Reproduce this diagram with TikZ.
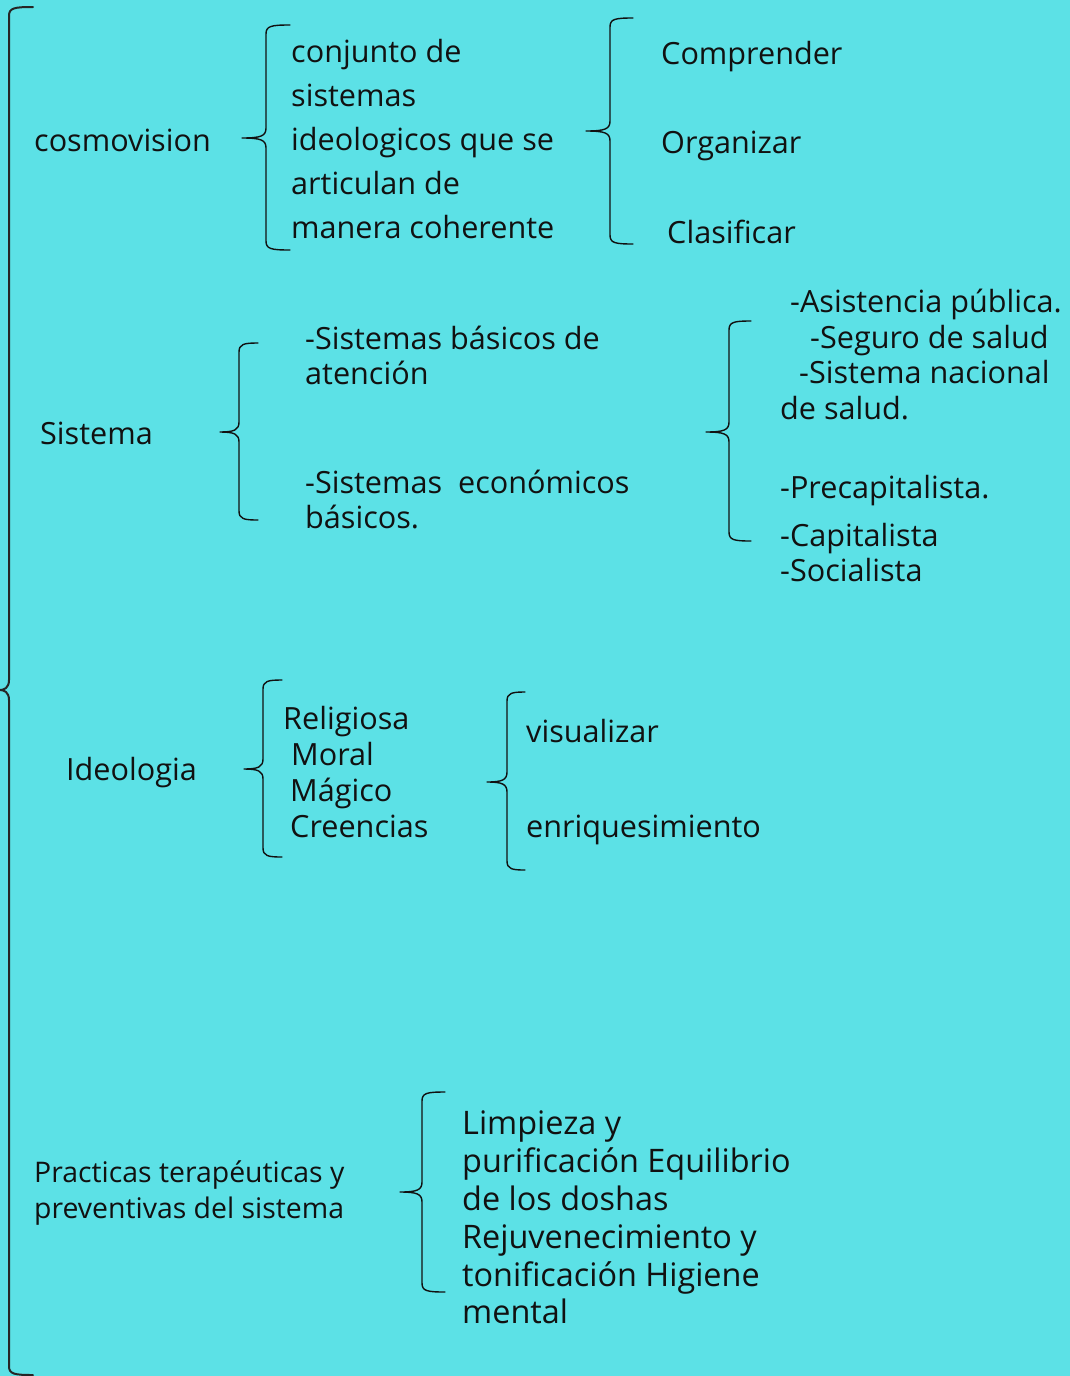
\documentclass[tikz,border=0pt]{standalone}
\usepackage{fontspec}
\setmainfont{Open Sans}
\definecolor{bg}{HTML}{5CE1E6}
\definecolor{ink}{HTML}{111111}
\tikzset{
  txt/.style={anchor=base west, inner sep=0pt, text=ink, font=\fontsize{30.6}{36}\selectfont},
  small/.style={txt, font=\fontsize{28.4}{33}\selectfont},
  big/.style={txt, font=\fontsize{32.4}{38}\selectfont},
  bracestyle/.style={draw=ink, line width=1.4pt, line join=round, line cap=round}
}
\newcommand\curly[7][]{%
  \draw[bracestyle,#1] (#7,#5) .. controls (#4+5,#5) and (#4,#5+1) .. (#4,#5+9) -- (#4,#3-10)
    .. controls (#4,#3-2) and (#4-5,#3) .. (#2,#3)
    .. controls (#4-5,#3) and (#4,#3+2) .. (#4,#3+10) -- (#4,#6-9)
    .. controls (#4,#6-1) and (#4+5,#6) .. (#7,#6);}
\begin{document}
\begin{tikzpicture}[x=1pt,y=-1pt]
\fill[bg] (0,0) rectangle (1070,1376);
\useasboundingbox (0,0) rectangle (1070,1376);

% big brace
\curly[line width=2pt,draw=black!85]{0}{690}{9}{7}{1375}{33}

% cosmovision
\node[txt] (cosmo) at (34,151) {cosmovision};
\curly{242}{138}{266}{25}{250}{290}
\node[txt] (c1) at (291,62) {conjunto de};
\node[txt] (c2) at (291,106) {sistemas};
\node[txt] (c3) at (291,150) {ideologicos que se};
\node[txt] (c4) at (291,194) {articulan de};
\node[txt] (c5) at (291,238) {manera coherente};
\curly{586}{131}{610}{18}{244}{633}
\node[txt] (comp) at (661,64) {Comprender};
\node[txt] (org) at (661,153) {Organizar};
\node[txt] (clas) at (667,243) {Clasificar};

% Sistema
\node[txt] (sis) at (40,444) {Sistema};
\curly{220}{432}{239}{343}{520}{258}
\node[txt] (s1) at (305,349) {-Sistemas básicos de};
\node[txt] (s2) at (305,384) {atención};
\node[txt] (s3) at (305,493) {-Sistemas\ \ económicos};
\node[txt] (s4) at (305,528) {básicos.};
\curly{706}{432}{729}{321}{541}{751}
\node[txt] (r1) at (790,312) {-Asistencia pública.};
\node[txt] (r2) at (810,348) {-Seguro de salud};
\node[txt] (r3) at (799,383) {-Sistema nacional};
\node[txt] (r4) at (780,419) {de salud.};
\node[txt] (r5) at (780,498) {-Precapitalista.};
\node[txt] (r6) at (780,546) {-Capitalista};
\node[txt] (r7) at (780,581) {-Socialista};

% Ideologia
\node[txt] (ide) at (66,780) {Ideologia};
\curly{244}{769}{263}{680}{857}{282}
\node[txt] (i1) at (283,729) {Religiosa};
\node[txt] (i2) at (291,765) {Moral};
\node[txt] (i3) at (290,801) {Mágico};
\node[txt] (i4) at (290,837) {Creencias};
\curly{487}{782}{507}{692}{870}{525}
\node[txt] (v1) at (526,742) {visualizar};
\node[txt] (v2) at (526,837) {enriquesimiento};

% Practicas
\node[small] (p1) at (34,1182) {Practicas terapéuticas y};
\node[small] (p2) at (34,1218) {preventivas del sistema};
\curly{400}{1192}{422}{1092}{1292}{445}
\node[big] (l1) at (462,1134) {Limpieza y};
\node[big] (l2) at (462,1172) {purificación Equilibrio};
\node[big] (l3) at (462,1210) {de los doshas};
\node[big] (l4) at (462,1248) {Rejuvenecimiento y};
\node[big] (l5) at (462,1286) {tonificación Higiene};
\node[big] (l6) at (462,1323) {mental};
\end{tikzpicture}
\end{document}
